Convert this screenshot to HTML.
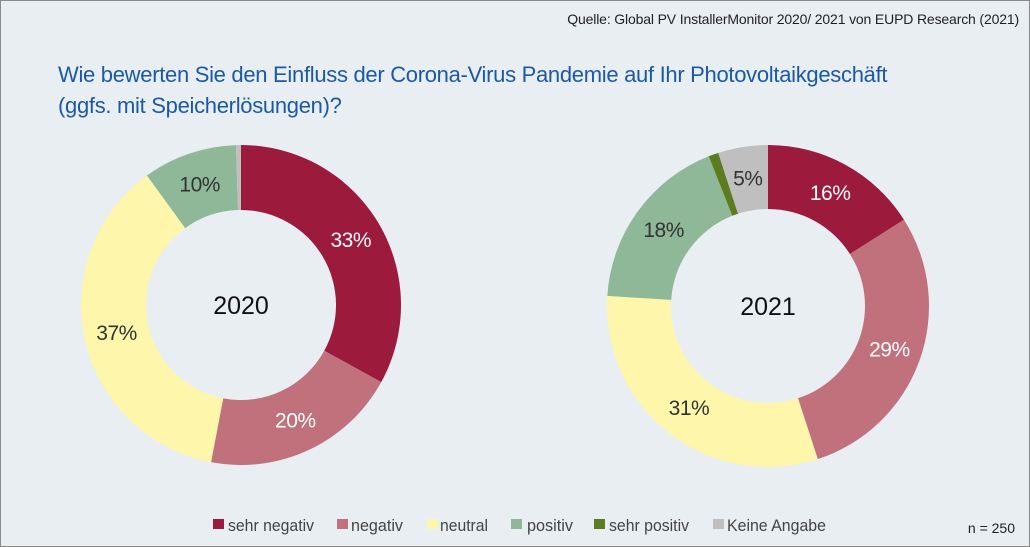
<!DOCTYPE html>
<html><head><meta charset="utf-8"><style>
body{margin:0;background:#fff}
#wrap{position:relative;width:1028px;height:545px;background:#e9eef3;border:1px solid #8a8a8a;font-family:"Liberation Sans Narrow","Liberation Sans",sans-serif;overflow:hidden}
.src{position:absolute;right:10px;top:10px;font-size:14px;color:#222;letter-spacing:-0.15px}
.title{position:absolute;left:57px;top:58px;font-size:22px;line-height:31px;color:#1b5aa3;letter-spacing:-0.3px}
.n{position:absolute;right:14px;top:519px;font-size:14px;color:#222}
svg{position:absolute;left:0;top:0}
</style></head><body>
<div id="wrap">
<div class="src">Quelle: Global PV InstallerMonitor 2020/ 2021 von EUPD Research (2021)</div>
<div class="title">Wie bewerten Sie den Einfluss der Corona-Virus Pandemie auf Ihr Photovoltaikgeschäft<br>(ggfs. mit Speicherlösungen)?</div>
<div class="n">n = 250</div>
<svg id="svg" width="1030" height="547"></svg>
</div>
<script>
const categories=["sehr negativ","negativ","neutral","positiv","sehr positiv","Keine Angabe"];
const colors=["#9c1a3b","#c0717b","#fdf6ab","#8eb897","#5b7c1f","#bfbfbf"];
const values2020=[33,20,37,9.5,0,0.5];
const values2021=[16,29,31,18,1,5];
const labels2020=["33%","20%","37%","10%","",""];
const labels2021=["16%","29%","31%","18%","","5%"];
const NS="http://www.w3.org/2000/svg";
const svg=document.getElementById('svg');
function mk(t,a){const e=document.createElementNS(NS,t);for(const k in a)e.setAttribute(k,a[k]);return e;}
function pt(cx,cy,r,f){const a=f*2*Math.PI;return [cx+r*Math.sin(a),cy-r*Math.cos(a)];}
function donut(cx,cy,R,r,vals,labs,year){
  const tot=vals.reduce((a,b)=>a+b,0);let acc=0;
  vals.forEach((v,i)=>{
    if(v<=0){return;}
    const f0=acc/tot,f1=(acc+v)/tot;acc+=v;
    const large=(f1-f0)>0.5?1:0;
    const [x0,y0]=pt(cx,cy,R,f0),[x1,y1]=pt(cx,cy,R,f1),[x2,y2]=pt(cx,cy,r,f1),[x3,y3]=pt(cx,cy,r,f0);
    const p=mk('path',{d:`M${x0},${y0}A${R},${R} 0 ${large} 1 ${x1},${y1}L${x2},${y2}A${r},${r} 0 ${large} 0 ${x3},${y3}Z`,fill:colors[i]});
    
    
    svg.appendChild(p);
    if(labs[i]){const [lx,ly]=pt(cx,cy,(R+r)/2,(f0+f1)/2);
      const t=mk('text',{x:lx,y:ly+7,'text-anchor':'middle','font-size':21,'letter-spacing':-0.5,fill:i<2?'#fff':'#333'});
      t.textContent=labs[i];
      
      
      svg.appendChild(t);}
  });
  const t=mk('text',{x:cx,y:cy+9,'text-anchor':'middle','font-size':25,fill:'#111'});t.textContent=year;
  
  
  svg.appendChild(t);
}
donut(240,304,160,95,values2020,labels2020,"2020");
donut(767,305,161,97,values2021,labels2021,"2021");
const lx=[212,336,426,510,593,712];
const tx=[227,350,439,526,608,726];
const lw=[86,52,48,46,80,99];
categories.forEach((c,i)=>{
  const g=mk('g',{});
  
  
  g.appendChild(mk('rect',{x:lx[i],y:518,width:11,height:10,fill:colors[i]}));
  const t=mk('text',{x:tx[i],y:530,'font-size':17,fill:'#444',textLength:lw[i],lengthAdjust:'spacingAndGlyphs'});t.textContent=c;g.appendChild(t);
  svg.appendChild(g);
});
</script>
</body></html>
